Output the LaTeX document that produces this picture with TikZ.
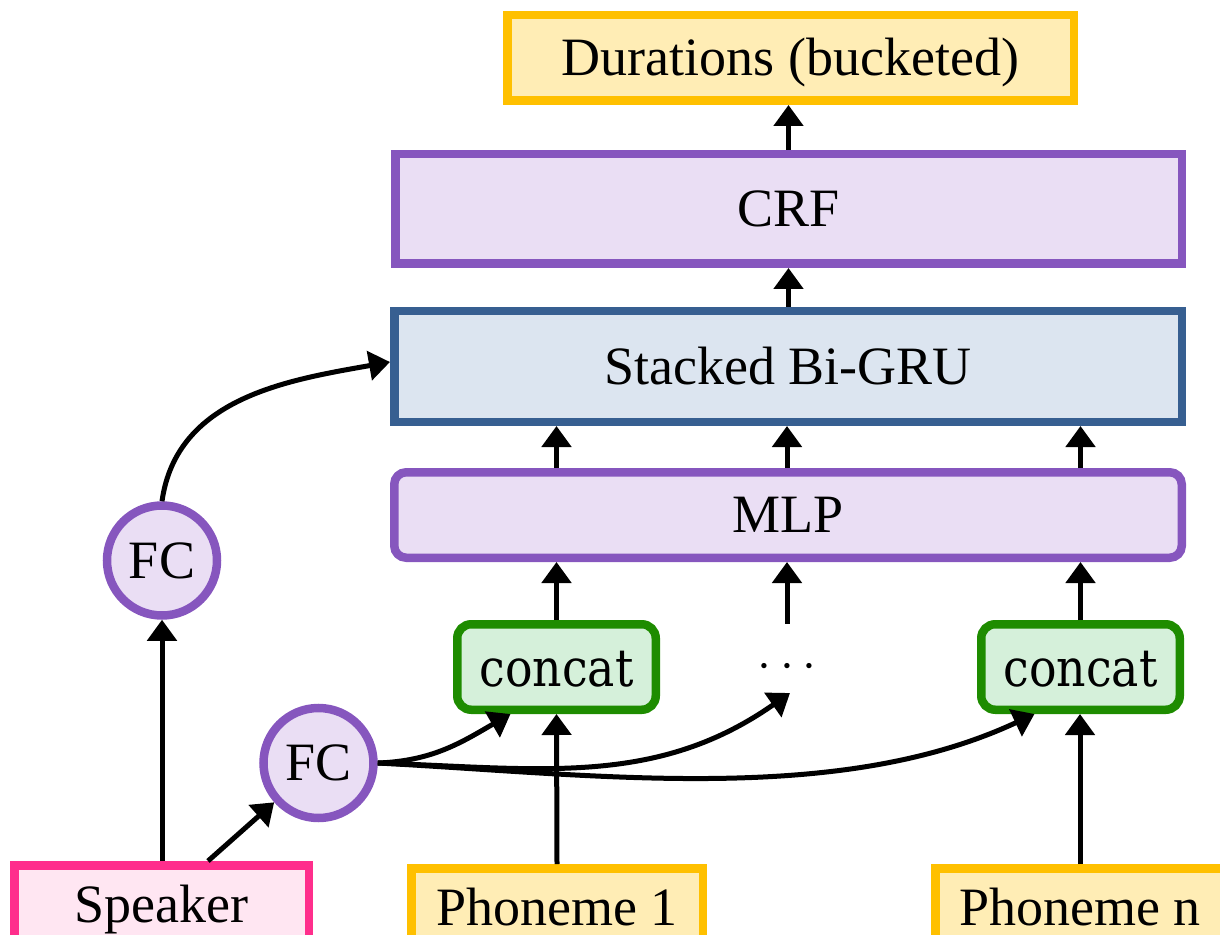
\documentclass[tikz,border=0pt]{standalone}
\usepackage{fontspec}
\setmainfont{Liberation Serif}
\newfontfamily\concatfont[FakeStretch=0.88]{DejaVu Serif}
\usetikzlibrary{arrows.meta}

\definecolor{ylwB}{HTML}{FFC000}
\definecolor{ylwF}{HTML}{FFEDB5}
\definecolor{prpB}{HTML}{8656BE}
\definecolor{prpF}{HTML}{EADEF4}
\definecolor{bluB}{HTML}{375F91}
\definecolor{bluF}{HTML}{DCE5F0}
\definecolor{grnB}{HTML}{1E8C00}
\definecolor{grnF}{HTML}{D5F0DA}
\definecolor{pnkB}{HTML}{FF2E8C}
\definecolor{pnkF}{HTML}{FFE6F2}

\tikzset{
  box/.style={draw, line width=4.25pt, inner sep=0pt, rectangle,
    font=\fontsize{27}{32}\selectfont, text height=17.9pt, text depth=0pt},
  yellowbox/.style={box, draw=ylwB, fill=ylwF},
  purplebox/.style={box, draw=prpB, fill=prpF},
  bluebox/.style={box, draw=bluB, fill=bluF},
  pinkbox/.style={box, draw=pnkB, fill=pnkF},
  concatbox/.style={box, draw=grnB, fill=grnF, rounded corners=7pt,
    font=\concatfont\fontsize{26}{30}\selectfont, text height=19pt,
    minimum width=99.25pt, minimum height=42.75pt},
  fcnode/.style={circle, draw=prpB, fill=prpF, line width=4.25pt, inner sep=0pt,
    minimum size=55pt, font=\fontsize{27}{32}\selectfont, text height=17.9pt, text depth=0pt},
  link/.style={line width=2.5pt, -{Triangle[length=10.5pt,width=14.5pt]}},
}

\begin{document}
\begin{tikzpicture}[x=0.5pt, y=0.5pt]
\useasboundingbox (0,0) rectangle (1220,-935);
\clip (0,0) rectangle (1220,-935);

% main stack
\node[yellowbox, minimum width=283.25pt, minimum height=42.75pt] (dur) at (790.5,-58) {Durations (bucketed)};
\node[purplebox, minimum width=393.25pt, minimum height=54.75pt] (crf) at (788.5,-209) {CRF};
\node[bluebox, minimum width=393.75pt, minimum height=55.25pt] (gru) at (788,-366.5) {Stacked Bi-GRU};
\node[purplebox, rounded corners=6pt, minimum width=393.75pt, minimum height=42.75pt] (mlp) at (788,-515) {MLP};

% per-phoneme concatenation
\node[concatbox] (c1) at (556.5,-667) {concat};
\node[inner sep=0pt, minimum width=99.25pt, minimum height=42.75pt,
      font=\fontsize{24}{28}\selectfont] (dots) at (787,-667) {$\cdots$};
\node[concatbox] (cn) at (1080.5,-667) {concat};
\coordinate (dotsin) at (790,-693);

% inputs
\node[pinkbox, minimum width=147.25pt, minimum height=39.75pt] (spk) at (161.5,-905) {Speaker};
\node[yellowbox, minimum width=145.75pt, minimum height=39.75pt] (ph1) at (557,-908) {Phoneme 1};
\node[yellowbox, minimum width=144.75pt, minimum height=39.75pt] (phn) at (1080,-908) {Phoneme n};

% speaker projections
\node[fcnode] (fct) at (162,-560.5) {FC};
\node[fcnode] (fcb) at (318.5,-763) {FC};
\coordinate (spkr) at ([xshift=23.25pt]spk.north);

% vertical flow
\draw[link] (crf.north) -- (crf.north |- dur.south);
\draw[link] (gru.north -| crf.north) -- (crf.south);
\foreach \c in {c1, dots, cn} {
  \draw[link] (mlp.north -| \c) -- (gru.south -| \c);
  \draw[link] (\c.north) -- (mlp.south -| \c);
}
\draw[link] (ph1.north) -- (c1.south);
\draw[link] (phn.north) -- (phn.north |- cn.south);

% speaker branches
\draw[link] (spk.north -| fct) -- (fct.south);
\draw[link] (spkr) -- (fcb);
\draw[link] (fct.north) to[out=82, in=190] ([yshift=2.25pt]gru.west);
\draw[link] (fcb.east) to[out=2, in=210] ([xshift=-23pt]c1.south);
\draw[link] (fcb.east) to[out=-2, in=215] (dotsin);
\draw[link] (fcb.east) to[out=-3, in=205, looseness=0.85] ([xshift=-23pt]cn.south);
\end{tikzpicture}
\end{document}
